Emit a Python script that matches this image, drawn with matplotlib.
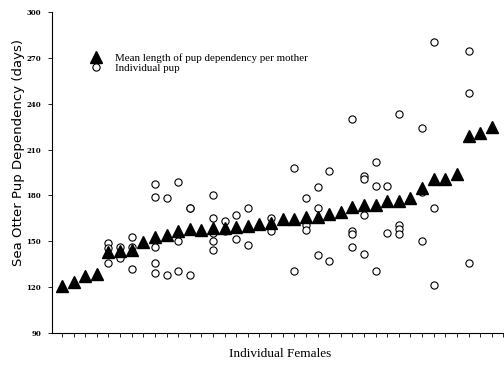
import matplotlib
matplotlib.use('Agg')
import matplotlib.pyplot as plt
from matplotlib.lines import Line2D

# one entry per mother, left to right
females = list(range(1, 39))
mean_days = [120.5, 123.5, 127.5, 128.5, 143, 143.5, 144, 149.5, 152.5, 154,
             157, 158, 157.5, 159, 159, 159.5, 160, 161, 162, 164.5,
             164.5, 166, 166, 168, 169, 172.5, 174, 174, 176.5, 176.5,
             178.5, 185, 191, 191, 194, 219, 221, 225]
pup_days = [[], [], [], [],
            [149, 145.5, 135.5],
            [146.5, 139],
            [152.5, 146, 132],
            [],
            [187.5, 179, 146, 135.5, 129.5],
            [178, 128],
            [189, 150.5, 130.5],
            [172, 172, 128],
            [],
            [180, 165.5, 155.5, 150, 144.5],
            [163, 156.5],
            [167.5, 151.5],
            [171.5, 147.5],
            [],
            [165.5, 156.5],
            [],
            [198, 130.5],
            [178, 160.5, 157.5],
            [185.5, 171.5, 141],
            [196, 137],
            [],
            [230, 157, 155, 146.5],
            [192.5, 190.5, 167.5, 141.5],
            [202, 186, 130.5],
            [186, 155.5],
            [233, 160.5, 158, 155],
            [],
            [224, 182, 150.5],
            [280.5, 171.5, 121.5],
            [], [],
            [274.5, 247, 135.5],
            [], []]
y_ticks = [90, 120, 150, 180, 210, 240, 270, 300]

pup_x = []
pup_y = []
for f, days in zip(females, pup_days):
    for d in days:
        pup_x.append(f)
        pup_y.append(d)

fig = plt.figure(figsize=(5.04, 3.66), dpi=100)
ax = fig.add_axes([52 / 504, 1 - 333 / 366, 452 / 504, 321 / 366])

ax.plot(pup_x, pup_y, 'o', ms=5.2, mfc='white', mec='black', mew=0.8, ls='none')
ax.plot(females, mean_days, '^', ms=8.5, color='black', ls='none')

ax.set_xlim(0.14, 39.05)
ax.set_ylim(90, 300)
ax.set_yticks(y_ticks)
ax.set_xticks(list(range(1, 40)))
ax.set_xticklabels([])
for lab in ax.get_yticklabels():
    lab.set_fontfamily('DejaVu Serif')
    lab.set_fontweight('bold')
    lab.set_fontsize(5)
ax.tick_params(axis='y', length=3, width=0.6, pad=5)
ax.tick_params(axis='x', length=3, width=0.6)
ax.spines['top'].set_visible(False)
ax.spines['right'].set_visible(False)
ax.spines['left'].set_linewidth(0.8)
ax.spines['bottom'].set_linewidth(0.8)

handles = [Line2D([], [], marker='^', ms=8.5, color='black', ls='none'),
           Line2D([], [], marker='o', ms=5.2, mfc='white', mec='black', mew=0.8, ls='none')]
ax.legend(handles, ['Mean length of pup dependency per mother', 'Individual pup'],
          loc='upper left', bbox_to_anchor=(0.063, 0.885), frameon=False,
          handletextpad=0.75, labelspacing=0.05, borderaxespad=0,
          prop={'family': 'Liberation Serif', 'size': 7.9})

fig.text(280 / 504, 1 - 354 / 366, 'Individual Females', ha='center', va='center',
         family='Liberation Serif', fontsize=9.5)
fig.text(19 / 504, 1 - 153 / 366, 'Sea Otter Pup Dependency (days)', ha='center', va='center',
         rotation=90, family='DejaVu Sans', fontsize=9.5)

fig.savefig('out.png', dpi=100)
